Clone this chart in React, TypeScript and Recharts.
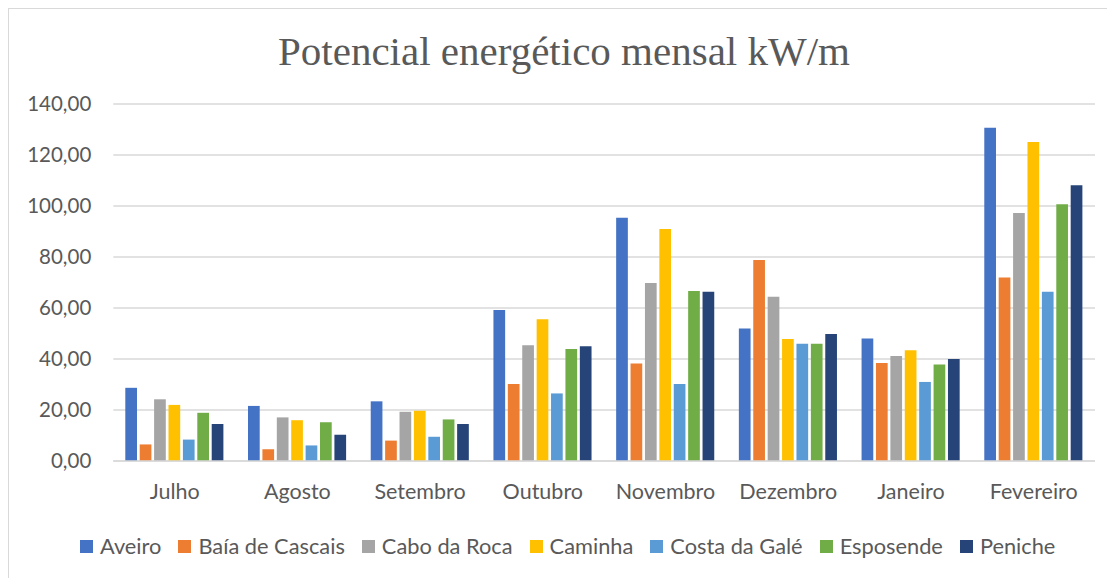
import { BarChart, Bar, XAxis, YAxis, CartesianGrid } from "recharts";

const months = [
  "Julho",
  "Agosto",
  "Setembro",
  "Outubro",
  "Novembro",
  "Dezembro",
  "Janeiro",
  "Fevereiro",
];

const aveiro = [28.7, 21.6, 23.4, 59.2, 95.4, 52.0, 48.0, 130.7];
const baiaCascais = [6.5, 4.6, 8.0, 30.2, 38.2, 78.8, 38.4, 72.0];
const caboRoca = [24.2, 17.1, 19.3, 45.4, 69.8, 64.4, 41.2, 97.3];
const caminha = [22.0, 16.0, 19.7, 55.6, 91.0, 47.8, 43.4, 125.1];
const costaGale = [8.4, 6.1, 9.5, 26.5, 30.2, 46.0, 31.0, 66.4];
const esposende = [18.9, 15.2, 16.3, 43.9, 66.7, 46.0, 37.8, 100.7];
const peniche = [14.5, 10.3, 14.5, 45.0, 66.4, 49.8, 40.0, 108.1];

const yTicks = [0, 20, 40, 60, 80, 100, 120, 140];

const series = [
  { key: "aveiro", name: "Aveiro", color: "#4472C4", values: aveiro },
  { key: "baia", name: "Baía de Cascais", color: "#ED7D31", values: baiaCascais },
  { key: "cabo", name: "Cabo da Roca", color: "#A5A5A5", values: caboRoca },
  { key: "caminha", name: "Caminha", color: "#FFC000", values: caminha },
  { key: "costa", name: "Costa da Galé", color: "#5B9BD5", values: costaGale },
  { key: "esposende", name: "Esposende", color: "#70AD47", values: esposende },
  { key: "peniche", name: "Peniche", color: "#264478", values: peniche },
];

const data = months.map((m, i) => {
  const row: any = { month: m };
  series.forEach((s) => (row[s.key] = s.values[i]));
  return row;
});

const textColor = "#595959";
const font = "Lato, 'Open Sans', sans-serif";

export default function App() {
  return (
    <div
      style={{
        position: "relative",
        width: 1107,
        height: 570,
        borderLeft: "1px solid #d9d9d9",
        borderTop: "1px solid #d9d9d9",
        fontFamily: font,
        background: "#fff",
      }}
    >
      <div
        style={{
          position: "absolute",
          left: 0,
          top: 22,
          width: 1110,
          textAlign: "center",
          fontFamily: "'Liberation Serif', serif",
          fontSize: 41,
          lineHeight: "41px",
          color: textColor,
        }}
      >
        Potencial energético mensal kW/m
      </div>

      <BarChart
        width={1100}
        height={500}
        data={data}
        margin={{ top: 95, right: 14, left: 0, bottom: 0 }}
        barGap={2.7}
      >
        <CartesianGrid vertical={false} stroke="#d9d9d9" strokeWidth={1.3} />
        <XAxis
          dataKey="month"
          height={48}
          axisLine={{ stroke: "#d9d9d9", strokeWidth: 1.3 }}
          tickLine={false}
          tickSize={0}
          tickMargin={23}
          tick={{ fill: textColor, fontSize: 21.5, fontFamily: font }}
        />
        <YAxis
          width={104.3}
          domain={[0, 140]}
          ticks={yTicks}
          axisLine={false}
          tickLine={false}
          tickSize={0}
          tickMargin={22}
          tick={{ fill: textColor, fontSize: 20.5, fontFamily: font }}
          tickFormatter={(v: number) => v.toFixed(2).replace(".", ",")}
        />
        {series.map((s) => (
          <Bar
            key={s.key}
            dataKey={s.key}
            name={s.name}
            fill={s.color}
            barSize={11.7}
            isAnimationActive={false}
          />
        ))}
      </BarChart>

      <div
        style={{
          position: "absolute",
          left: 71,
          top: 526,
          display: "flex",
          alignItems: "center",
          fontSize: 21.8,
          lineHeight: "22px",
          color: textColor,
          whiteSpace: "nowrap",
        }}
      >
        {series.map((s) => (
          <div
            key={s.key}
            style={{ display: "flex", alignItems: "center", marginRight: 17 }}
          >
            <span
              style={{
                display: "inline-block",
                width: 13,
                height: 13,
                background: s.color,
                marginRight: 7,
              }}
            />
            <span>{s.name}</span>
          </div>
        ))}
      </div>
    </div>
  );
}
